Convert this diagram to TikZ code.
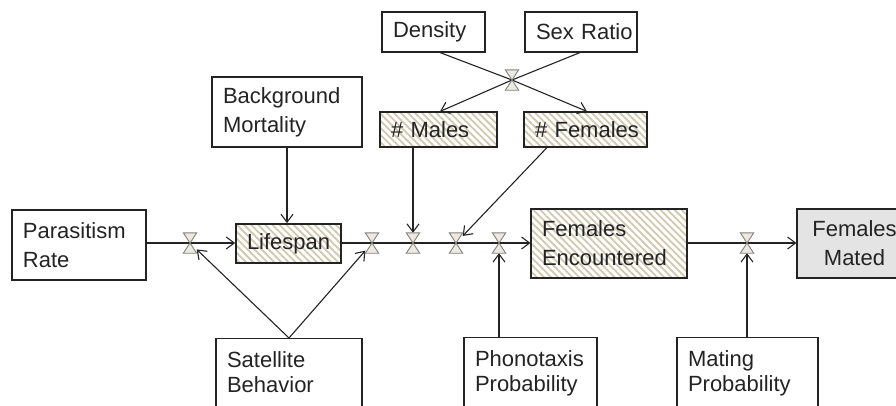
\documentclass[tikz,border=0pt]{standalone}
\usepackage{fontspec}
\setmainfont{Liberation Sans}
\usetikzlibrary{arrows.meta,patterns.meta}
\definecolor{ink}{RGB}{35,35,35}
\definecolor{hatch}{RGB}{208,201,176}
\definecolor{valvefill}{RGB}{236,234,222}
\definecolor{valveline}{RGB}{130,130,130}
\definecolor{stockgray}{RGB}{228,228,228}
\tikzset{
  box/.style={draw=ink, line width=1.1pt, rectangle, inner xsep=11pt, inner ysep=0pt,
    align=left, text=ink, font=\fontsize{22}{29}\selectfont},
  lowbox/.style={box, anchor=north, inner ysep=13pt, font=\fontsize{22}{25}\selectfont},
  hatched/.style={preaction={fill=white}, pattern={Lines[angle=-45,distance=5pt,line width=1.8pt]}, pattern color=hatch},
  valve/.style={rectangle, minimum width=13pt, minimum height=20pt, inner sep=0pt},
  valveshape/.style={fill=valvefill, draw=valveline, line width=0.9pt},
  flow/.style={draw=ink, line width=1.1pt, -{Straight Barb[length=8pt,width=12pt]}},
  infl/.style={draw=ink, line width=1.1pt, -{Straight Barb[length=8pt,width=12pt]}},
  plain/.style={draw=ink, line width=1.1pt}
}
\begin{document}
\begin{tikzpicture}[x=1pt,y=-1pt]
\useasboundingbox (0,0) rectangle (896,405);
% boxes
\node[box, minimum width=134pt, minimum height=70pt, text width=112pt] (par) at (79,245) {Parasitism\\Rate};
\node[box, minimum width=150pt, minimum height=70pt, text width=128pt] (bm) at (287,112) {Background\\Mortality};
\node[box, hatched, minimum width=105pt, minimum height=39pt, text width=83pt] (life) at (288.5,243.5) {\mbox{Lifespan}};
\node[box, minimum width=103pt, minimum height=40pt, text width=81pt] (dens) at (433.5,32) {\mbox{Density}};
\node[box, minimum width=112pt, minimum height=40pt, text width=90pt] (sexr) at (581,32) {\mbox{Sex Ratio}};
\node[box, hatched, minimum width=117pt, minimum height=35pt, text width=95pt] (males) at (438.5,129.5) {\mbox{\# Males}};
\node[box, hatched, minimum width=123pt, minimum height=35pt, text width=101pt] (fems) at (585.5,129.5) {\mbox{\# Females}};
\node[box, hatched, minimum width=156pt, minimum height=69pt, text width=134pt] (fenc) at (609,243.5) {Females\\Encountered};
\node[box, fill=stockgray, align=center, minimum width=115pt, minimum height=69pt, text width=93pt] (fmat) at (854.5,243.5) {Females\\Mated};
\node[lowbox, minimum width=146pt, text width=124pt] (sat) at (289,338) {Satellite\\Behavior\rule[-30pt]{0pt}{0pt}};
\node[lowbox, minimum width=133pt, text width=111pt] (phon) at (530.5,337) {Phonotaxis\\Probability\rule[-30pt]{0pt}{0pt}};
\node[lowbox, minimum width=141pt, text width=119pt] (mat) at (747.5,337) {Mating\\Probability\rule[-30pt]{0pt}{0pt}};
% valves
\node[valve] (v1) at (190,243) {};
\node[valve] (v2) at (372,243) {};
\node[valve] (v3) at (413,243) {};
\node[valve] (v4) at (456,243) {};
\node[valve] (v5) at (499,243) {};
\node[valve] (v6) at (747,243) {};
\node[valve] (vx) at (512,80) {};
% flows
\draw[flow] (par.east |- v1.center) -- (life.west |- v1.center);
\draw[flow] (life.east |- v2.center) -- (fenc.west |- v2.center);
\draw[flow] (fenc.east |- v6.center) -- (fmat.west |- v6.center);
% density / sex ratio crossing
\draw[plain] ([xshift=6.5pt]dens.south) -- (vx.center);
\draw[infl] (vx.center) -- ([xshift=1.5pt]fems.north);
\draw[plain] ([xshift=-1pt]sexr.south) -- (vx.center);
\draw[infl] (vx.center) -- ([xshift=1.5pt]males.north);
% influences
\draw[infl] (bm.south) -- (bm.south |- life.north);
\draw[infl] (sat.north) -- (v1);
\draw[infl] (sat.north) -- (v2);
\draw[infl] (v3 |- males.south) -- (v3);
\draw[infl] ([xshift=-38.5pt]fems.south) -- (v4);
\draw[infl] (v5 |- phon.north) -- (v5);
\draw[infl] (v6 |- mat.north) -- (v6);
% valve glyphs
\foreach \v in {v1,v2,v3,v4,v5,v6,vx}{
  \draw[valveshape] (\v.north west) -- (\v.north east) -- (\v.south west) -- (\v.south east) -- cycle;
}
\end{tikzpicture}
\end{document}
